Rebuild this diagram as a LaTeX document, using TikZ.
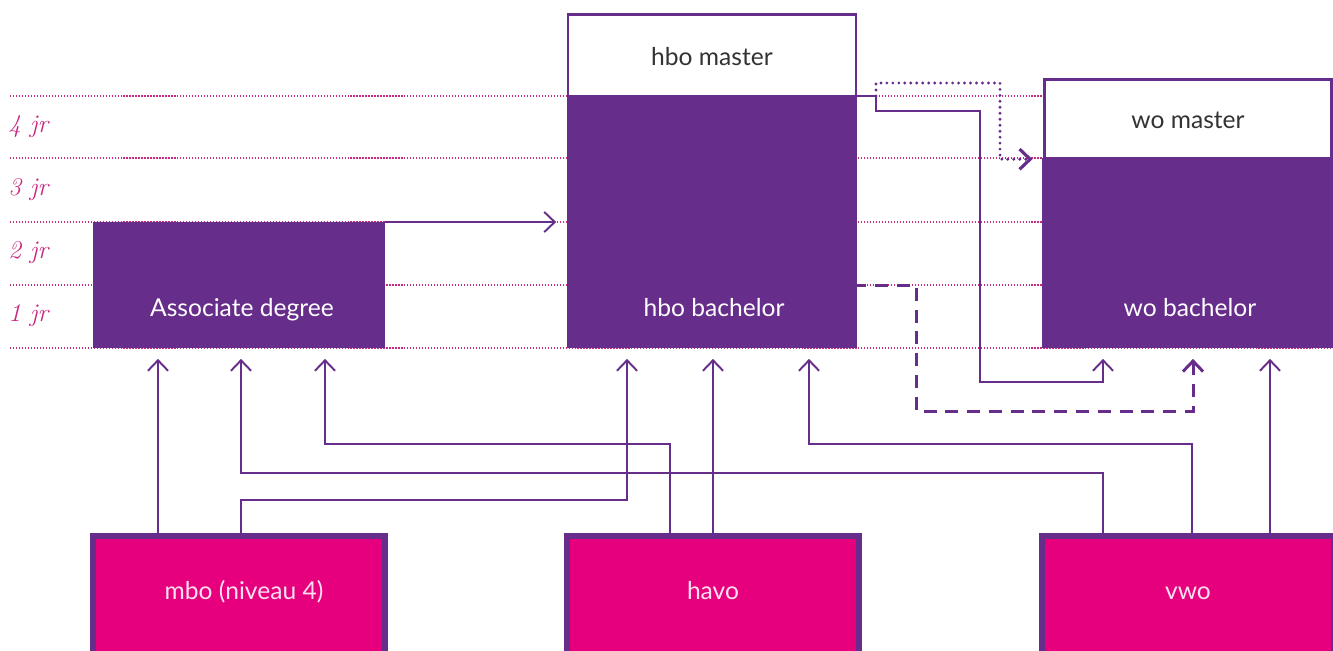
\documentclass[tikz,border=0pt]{standalone}
\usepackage{fontspec}
\newfontfamily\boxfont{Lato}
\usetikzlibrary{arrows.meta}
\definecolor{paars}{HTML}{662D8A}
\definecolor{roze}{HTML}{E6007E}
\definecolor{gidsroze}{HTML}{C8287F}

\begin{document}
\begin{tikzpicture}[x=0.02cm,y=-0.02cm]
	\tikzset{blok/.style = {fill=paars,inner sep=0pt,outer sep=0pt}}
	\tikzset{master/.style = {draw=paars,line width=1.4pt,fill=white,text=black!80,font=\boxfont\fontsize{14}{16}\selectfont,text height=12.5pt,text depth=1pt,inner sep=0pt}}
	\tikzset{vooropl/.style = {draw=paars,line width=3.4pt,fill=roze,minimum width=5.84cm,minimum height=3.28cm,inner sep=0pt}}
	\tikzset{tekst/.style = {font=\boxfont\fontsize{14}{16}\selectfont,text=white,text height=10pt,text depth=2pt}}
	\tikzset{jaar/.style = {font=\fontsize{14.5}{16}\selectfont\itshape,text=gidsroze,inner sep=0pt,anchor=west}}
	\tikzset{gids/.style = {draw=gidsroze,line width=0.7pt,dash pattern=on 0.7pt off 1pt}}
	\tikzset{flow/.style = {draw=paars,line width=1.1pt,-{Straight Barb[length=6pt,width=11.5pt]},shorten >=6.2pt}}
	\tikzset{streep/.style = {line width=1.7pt,dash pattern=on 7.4pt off 5pt,dash phase=2pt}}
	\tikzset{stippel/.style = {line width=1.8pt,line cap=round,dash pattern=on 0pt off 3.4pt}}
	\useasboundingbox (0,0) rectangle (1333,650);
	\clip (0,0) rectangle (1333,650);
	% jaren
	\foreach \y in {96,158,222,285,348}
		\draw[gids] (10,\y) -- (1333,\y);
	\foreach \y/\n in {127/4,190/3,253/2,316/1}
		\node[jaar] at (8,\y) {\n\ jr};
	% opleidingen
	\node[blok,minimum width=5.84cm,minimum height=2.52cm] (ad) at (239,285) {};
	\node[blok,minimum width=5.8cm,minimum height=5.04cm] (hbob) at (712,222) {};
	\node[master,minimum width=5.76cm,minimum height=1.63cm] (hbom) at (712,55.25) {hbo master};
	\node[blok,minimum width=5.82cm,minimum height=3.8cm] (wob) at (1187.5,253) {};
	\node[master,minimum width=5.74cm,minimum height=1.57cm] (wom) at (1188,118.75) {wo master};
	\node[tekst] (adt) at (242,309) {Associate degree};
	\node[tekst] (hbobt) at (714,309) {hbo bachelor};
	\node[tekst] (wobt) at (1190,309) {wo bachelor};
	% vooropleidingen
	\node[vooropl] (mbo) at (239,618) {};
	\node[vooropl] (havo) at (713,618) {};
	\node[vooropl] (vwo) at (1188,618) {};
	\node[tekst,text=white!88!roze] (mbot) at (244,592) {mbo (niveau 4)};
	\node[tekst,text=white!88!roze] (havot) at (713,592) {havo};
	\node[tekst,text=white!88!roze] (vwot) at (1188,592) {vwo};
	% doorstroom
	\coordinate (tak) at (876,96);
	\draw[flow] (ad.north east) -- (hbob.west |- ad.north);
	\draw[flow] (hbob.north east) -- (tak) |- (980,111) |- (1103,382) -- (wob.south -| 1103,0);
	\draw[flow,stippel] (tak) |- (1000,83) |- (wom.south west);
	\draw[flow,streep] (hbob.east |- 0,285) -| (916,411) -| (wob.south -| 1193,0);
	\draw[flow] (mbo.north -| 158,0) -- (ad.south -| 158,0);
	\draw[flow] (mbo.north -| 241,0) |- (627,500) -- (hbob.south -| 627,0);
	\draw[flow] (havo.north) -- (hbob.south -| havo.north);
	\draw[flow] (havo.north -| 670,0) |- (325,444) -- (ad.south -| 325,0);
	\draw[flow] (vwo.north -| 1270,0) -- (wob.south -| 1270,0);
	\draw[flow] (vwo.north -| 1192,0) |- (809,444) -- (hbob.south -| 809,0);
	\draw[flow] (vwo.north -| 1103,0) |- (241,473) -- (ad.south -| 241,0);
\end{tikzpicture}
\end{document}
